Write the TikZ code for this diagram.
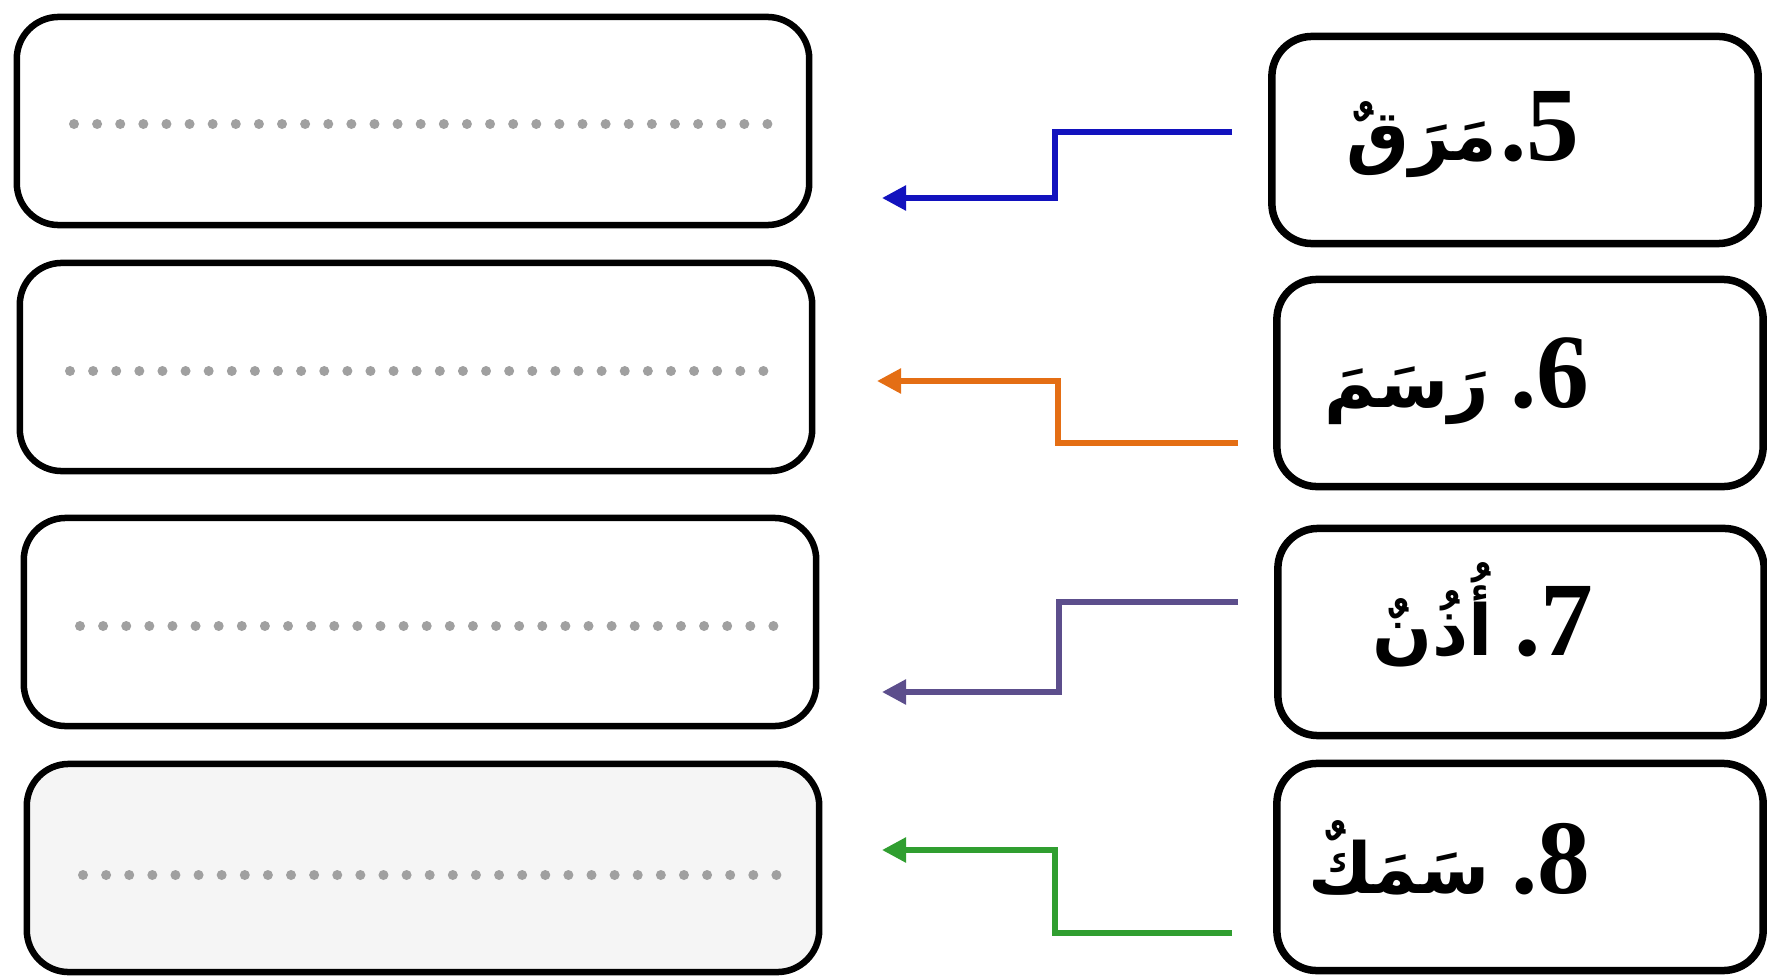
\documentclass[tikz,border=0pt]{standalone}
\usepackage{fontspec}
\usepackage{tikz}
\usetikzlibrary{arrows.meta}
\TeXXeTstate=1
\newfontfamily\arabicfont[Script=Arabic]{DejaVu Sans}
\newfontfamily\numfont{Liberation Serif Bold}
\definecolor{cblue}{RGB}{18,18,190}
\definecolor{corange}{RGB}{228,110,20}
\definecolor{cpurple}{RGB}{92,78,140}
\definecolor{cgreen}{RGB}{48,158,48}
\definecolor{dotgray}{RGB}{160,160,160}
\definecolor{pale}{RGB}{245,245,245}
\newcommand{\entry}[3]{\beginR{\numfont #1}\kern0pt{\numfont .}\kern0pt\hspace{#3}{\arabicfont\bfseries\fontsize{20}{24}\selectfont #2}\endR}
\tikzset{
  answerbox/.style={draw, line width=0.065cm, rounded corners=0.42cm, minimum width=7.92cm, minimum height=2.08cm},
  wordbox/.style={draw, line width=0.075cm, rounded corners=0.4cm, minimum width=4.86cm, minimum height=2.07cm},
  wordtext/.style={inner sep=0pt, anchor=base east, font=\fontsize{30}{34}\selectfont},
  dotrow/.style={draw=dotgray, line width=0.1cm, line cap=round, dash pattern=on 0pt off 0.231cm},
  link/.style={line width=0.055cm, -{Triangle[length=0.24cm, width=0.24cm]}}
}
\begin{document}
\begin{tikzpicture}[x=0.01cm, y=-0.01cm]
\useasboundingbox (0,0) rectangle (1767,976);

\node[answerbox] (l1) at (413,121) {}; \node[answerbox] (l2) at (416,367) {}; \node[answerbox] (l3) at (420,622) {}; \node[answerbox, fill=pale] (l4) at (423,868) {};
\node[wordbox] (r5) at (1515,140) {}; \node[wordbox] (r6) at (1520,383) {}; \node[wordbox] (r7) at (1521,632) {}; \node[wordbox] (r8) at (1520,867) {};

\node[wordtext] (t5) at (1580,160) {\entry{5}{مَرَقٌ}{1pt}};
\node[wordtext] (t6) at (1590,407) {\entry{6}{رَسَمَ}{0.2em}};
\node[wordtext] (t7) at (1594,655) {\entry{7}{أُذُنٌ}{0.2em}};
\node[wordtext] (t8) at (1591,893) {\entry{8}{سَمَكٌ}{0.2em}};

\draw[dotrow] (74,124) -- (770,124);
\draw[dotrow] (70,371) -- (766,371);
\draw[dotrow] (80,626) -- (776,626);
\draw[dotrow] (83,875) -- (779,875);

\coordinate (s5) at (1232,132); \coordinate (k5) at (1055,198); \coordinate (e5) at (882,198);
\coordinate (s6) at (1238,443); \coordinate (k6) at (1058,381); \coordinate (e6) at (877,381);
\coordinate (s7) at (1238,602); \coordinate (k7) at (1059,692); \coordinate (e7) at (882,692);
\coordinate (s8) at (1232,933); \coordinate (k8) at (1055,850); \coordinate (e8) at (882,850);

\draw[link, cblue] (s5) -| (k5) -- (e5);
\draw[link, corange] (s6) -| (k6) -- (e6);
\draw[link, cpurple] (s7) -| (k7) -- (e7);
\draw[link, cgreen] (s8) -| (k8) -- (e8);
\end{tikzpicture}
\end{document}
